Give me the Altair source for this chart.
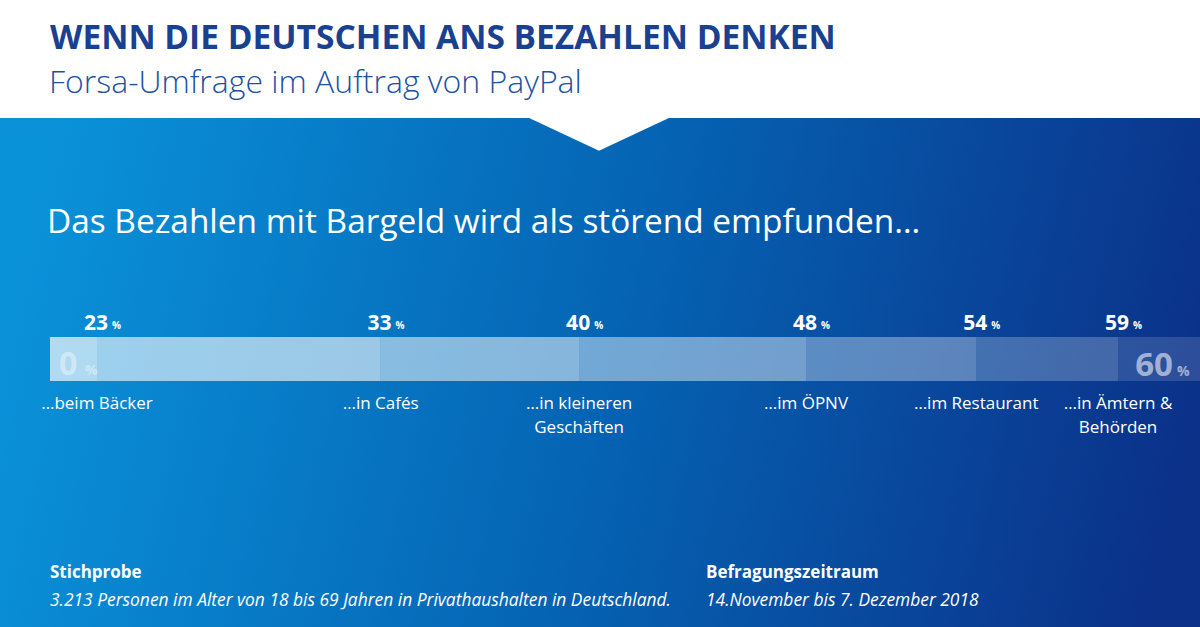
import altair as alt
import pandas as pd

# ---- data ----
title_text = "WENN DIE DEUTSCHEN ANS BEZAHLEN DENKEN"
subtitle_text = "Forsa-Umfrage im Auftrag von PayPal"
heading_text = "Das Bezahlen mit Bargeld wird als störend empfunden…"
categories = ["…beim Bäcker", "…in Cafés", "…in kleineren\nGeschäften", "…im ÖPNV",
              "…im Restaurant", "…in Ämtern &\nBehörden"]
values = [23, 33, 40, 48, 54, 59]
scale_min = 0
scale_max = 60
footer_left_head = "Stichprobe"
footer_left_text = "3.213 Personen im Alter von 18 bis 69 Jahren in Privathaushalten in Deutschland."
footer_right_head = "Befragungszeitraum"
footer_right_text = "14.November bis 7. Dezember 2018"

# ---- styles ----
segment_opacity = [0.68, 0.60, 0.52, 0.44, 0.34, 0.24, 0.14]
FONT = "Open Sans"
W, H = 1200, 627

xscale = alt.Scale(domain=[scale_min, values[0], values[-1], scale_max],
                   range=[50, 97, 1118, 1200], nice=False, zero=False)

seg_df = pd.DataFrame({
    "start": [scale_min] + values,
    "end": values + [scale_max],
    "op": segment_opacity,
})
val_df = pd.DataFrame({"v": values, "label": [str(v) for v in values], "pct": ["%"] * len(values)})
cat_df = pd.DataFrame({"v": values, "cat": categories})
end_df = pd.DataFrame({"v": [scale_min, scale_max], "label": [str(scale_min), str(scale_max)],
                       "pct": ["%", "%"]})
one = pd.DataFrame({"a": [0]})


def text_layer(txt, x, y, size, color="white", weight="normal", style="normal",
               align="left", opacity=1.0):
    return alt.Chart(pd.DataFrame({"t": [txt]})).mark_text(
        font=FONT, fontSize=size, fontWeight=weight, fontStyle=style, color=color,
        align=align, baseline="alphabetic", opacity=opacity
    ).encode(text="t:N", x=alt.value(x), y=alt.value(y))


def xenc():
    return alt.X("v:Q", scale=xscale, axis=None)


bg = alt.Chart(one).mark_rect(
    fill=alt.LinearGradient(
        gradient="linear",
        stops=[alt.GradientStop(color="#0a92d9", offset=0),
               alt.GradientStop(color="#0564b4", offset=0.5),
               alt.GradientStop(color="#0b3189", offset=1)],
        x1=0, y1=0.45, x2=1, y2=0.55),
    strokeWidth=0,
).encode(x=alt.value(0), x2=alt.value(W), y=alt.value(118), y2=alt.value(H))

notch = alt.Chart(one).mark_point(
    shape="M-1,0L1,0L0,0.47Z", size=20736, filled=True, color="white",
    opacity=1, strokeWidth=0
).encode(x=alt.value(599), y=alt.value(117))

bars = alt.Chart(seg_df).mark_rect(color="white", strokeWidth=0).encode(
    x=alt.X("start:Q", scale=xscale, axis=None),
    x2="end:Q",
    y=alt.value(337), y2=alt.value(381),
    opacity=alt.Opacity("op:Q", scale=None, legend=None),
)

nums = alt.Chart(val_df).mark_text(
    font=FONT, fontSize=21, fontWeight="bold", color="white", align="right",
    baseline="alphabetic", dx=11
).encode(x=xenc(), y=alt.value(330), text="label:N")

pcts = alt.Chart(val_df).mark_text(
    font=FONT, fontSize=10, fontWeight="bold", color="white", align="left",
    baseline="alphabetic", dx=15
).encode(x=xenc(), y=alt.value(329), text="pct:N")

lo = end_df[end_df.v == scale_min]
hi = end_df[end_df.v == scale_max]
zero_num = alt.Chart(lo).mark_text(
    font=FONT, fontSize=32, fontWeight="bold", color="white", opacity=0.4,
    align="left", baseline="alphabetic", dx=9
).encode(x=xenc(), y=alt.value(375), text="label:N")
zero_pct = alt.Chart(lo).mark_text(
    font=FONT, fontSize=14, fontWeight="bold", color="white", opacity=0.4,
    align="left", baseline="alphabetic", dx=35
).encode(x=xenc(), y=alt.value(375), text="pct:N")
max_num = alt.Chart(hi).mark_text(
    font=FONT, fontSize=33, fontWeight="bold", color="white", opacity=0.55,
    align="right", baseline="alphabetic", dx=-27
).encode(x=xenc(), y=alt.value(376), text="label:N")
max_pct = alt.Chart(hi).mark_text(
    font=FONT, fontSize=14, fontWeight="bold", color="white", opacity=0.55,
    align="left", baseline="alphabetic", dx=-23
).encode(x=xenc(), y=alt.value(376), text="pct:N")

cats = alt.Chart(cat_df).mark_text(
    font=FONT, fontSize=17, color="white", align="center", baseline="alphabetic",
    lineBreak="\n", lineHeight=24
).encode(x=xenc(), y=alt.value(409), text="cat:N")

chart = alt.layer(
    bg, notch,
    text_layer(title_text, 50, 49, 33.5, color="#1a418f", weight="bold"),
    text_layer(subtitle_text, 49, 93, 32, color="#1c52a3", weight=300),
    text_layer(heading_text, 47, 233, 33.4),
    bars, nums, pcts, zero_num, zero_pct, max_num, max_pct, cats,
    text_layer(footer_left_head, 50, 578, 17, weight="bold"),
    text_layer(footer_left_text, 50, 606, 17.4, style="italic"),
    text_layer(footer_right_head, 706, 578, 17, weight="bold"),
    text_layer(footer_right_text, 706, 606, 17.4, style="italic"),
).properties(
    width=W, height=H, background="white", padding=0,
    autosize=alt.AutoSizeParams(type="none"),
).configure_view(stroke=None)

chart.save("out.html", embed_options={"renderer": "svg", "actions": False})
